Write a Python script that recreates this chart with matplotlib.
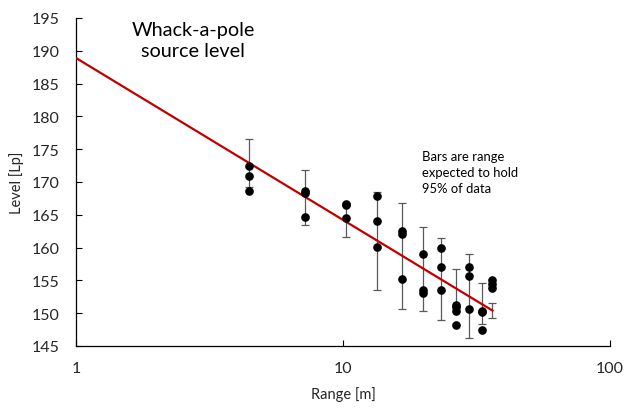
import numpy as np
import matplotlib
matplotlib.use("Agg")
import matplotlib.pyplot as plt
from matplotlib.ticker import FixedLocator, FixedFormatter, NullLocator

plt.rcParams['font.family'] = ['Lato', 'DejaVu Sans']

# measurement ranges [m] and levels at each range
ranges = [4.46, 7.22, 10.26, 13.44, 16.7, 19.9, 23.2, 26.4, 29.6, 33.1, 36.3]
levels = [
    [172.4, 170.9, 168.6],
    [168.6, 168.3, 164.6],
    [166.7, 166.5, 164.5],
    [167.8, 164.0, 160.1],
    [162.5, 162.0, 155.2],
    [159.0, 153.6, 153.1],
    [159.9, 157.0, 153.5],
    [151.3, 150.9, 150.3, 148.2],
    [157.0, 155.7, 150.7],
    [150.4, 150.2, 147.5],
    [155.1, 154.5, 153.8],
]
# 95% bars
bar_low = [169.3, 163.4, 161.6, 153.5, 150.6, 150.4, 148.9, 151.0, 146.2, 148.4, 149.3]
bar_high = [176.5, 171.9, 166.8, 168.5, 166.8, 163.1, 161.4, 156.8, 159.0, 154.6, 151.5]

# fitted source level line
fit_range = [1, 36.3]
fit_level = [188.9, 150.4]

fig = plt.figure(figsize=(6.25, 4.10), dpi=100)
ax = fig.add_axes([0.1216, 0.1537, 0.976 - 0.1216, 0.9537 - 0.1537])

lo = np.array(bar_low)
hi = np.array(bar_high)
mid = (lo + hi) / 2
ax.errorbar(ranges, mid, yerr=(hi - lo) / 2, fmt='none', ecolor='#595959',
            elinewidth=0.9, capsize=3.2, capthick=0.9, zorder=2)

ax.plot(fit_range, fit_level, color='#C00000', lw=1.6, zorder=3)

for r, vals in zip(ranges, levels):
    ax.plot([r] * len(vals), vals, 'o', color='black', ms=5.2, zorder=4)

ax.set_xscale('log')
ax.set_xlim(1, 100)
ax.set_ylim(145, 195)
ax.xaxis.set_major_locator(FixedLocator([1, 10, 100]))
ax.xaxis.set_major_formatter(FixedFormatter(['1', '10', '100']))
ax.xaxis.set_minor_locator(NullLocator())
ax.set_yticks(np.arange(145, 196, 5))

for s in ['top', 'right']:
    ax.spines[s].set_visible(False)
for s in ['left', 'bottom']:
    ax.spines[s].set_color('black')
    ax.spines[s].set_linewidth(0.9)

ax.tick_params(direction='in', length=4, width=0.8, labelsize=11.5,
               labelcolor='#262626')
ax.tick_params(axis='x', pad=11)
ax.tick_params(axis='y', pad=12)

ax.set_xlabel('Range [m]', fontsize=10.5, color='#262626', labelpad=8)
ax.set_ylabel('Level [Lp]', fontsize=10.5, color='#262626', labelpad=5)

fig.text(193 / 625, 1 - 41 / 410, 'Whack-a-pole\nsource level', ha='center',
         va='center', fontsize=14.3, color='black', linespacing=1.35)
fig.text(422 / 625, 1 - 173 / 410, 'Bars are range\nexpected to hold\n95% of data',
         ha='left', va='center', fontsize=9.4, color='black', linespacing=1.4)

fig.savefig('out.png', dpi=100)
